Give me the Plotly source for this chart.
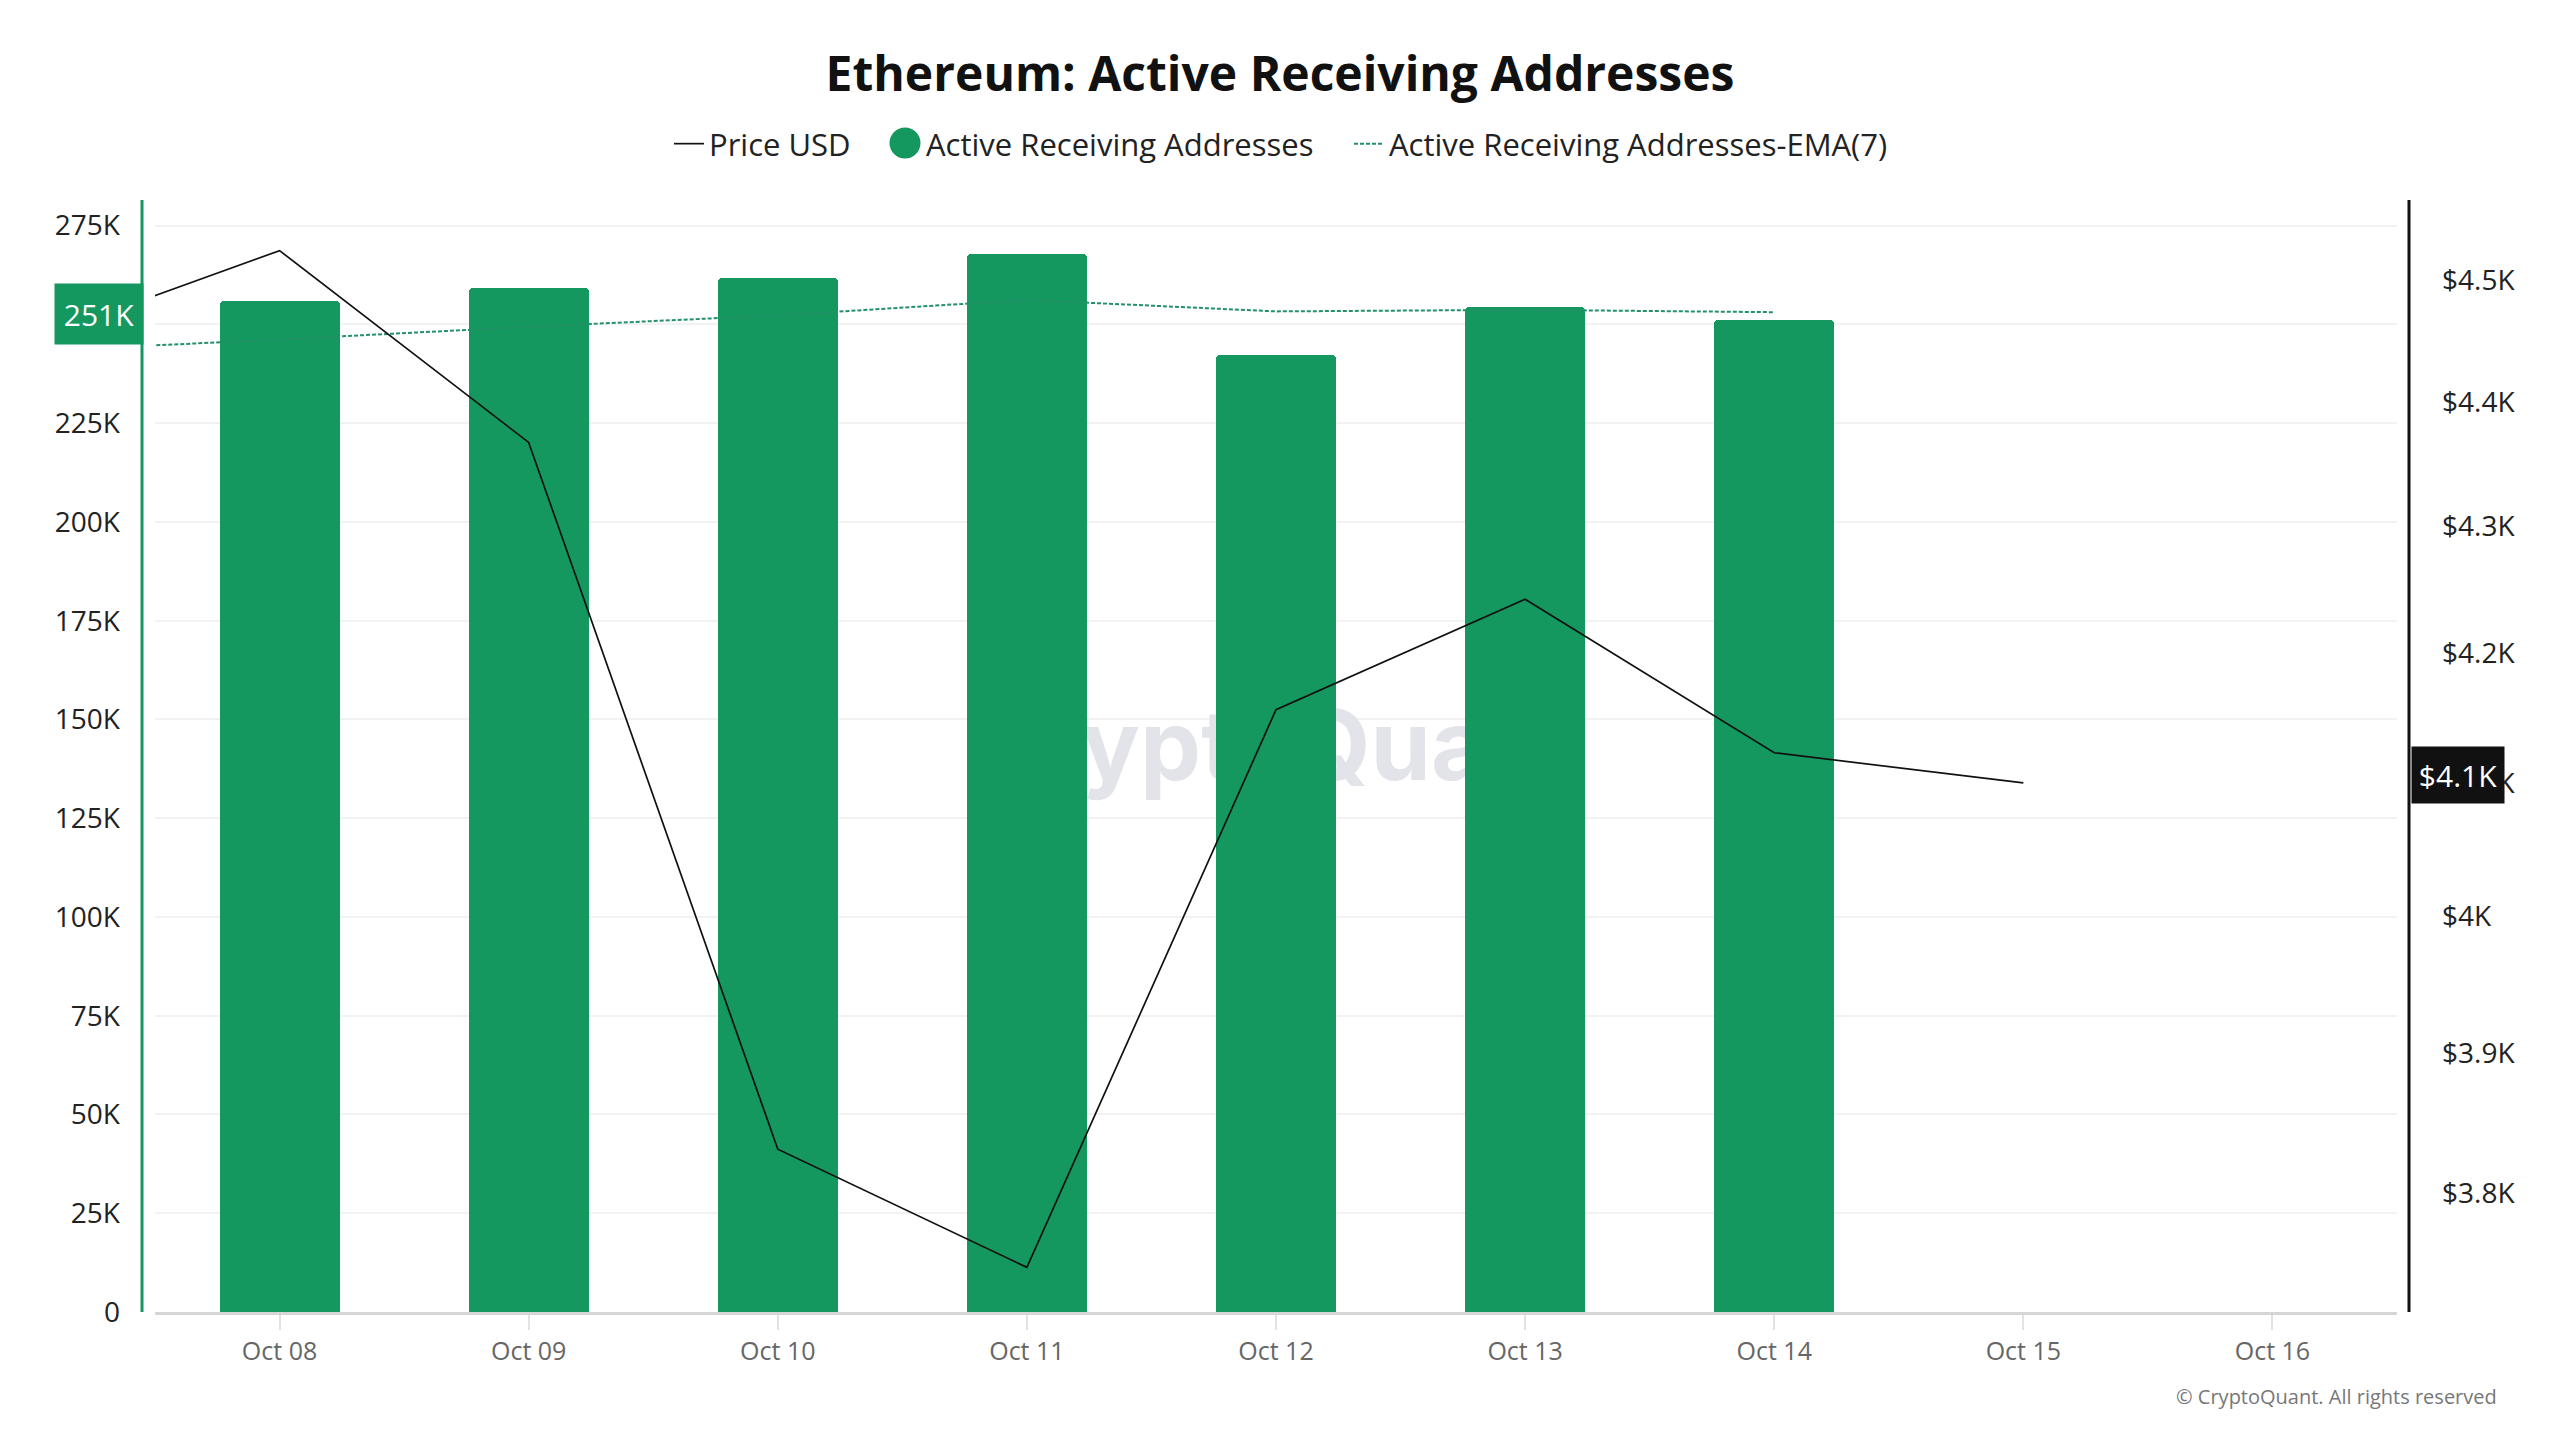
import numpy as np
import plotly.graph_objects as go

# ---------------- data ----------------
price_dates = ["2025-10-07", "2025-10-08", "2025-10-09", "2025-10-10", "2025-10-11",
               "2025-10-12", "2025-10-13", "2025-10-14", "2025-10-15"]
price_usd = [4450, 4525, 4367, 3831, 3748, 4156, 4242, 4123, 4100]

bar_dates = ["2025-10-08", "2025-10-09", "2025-10-10", "2025-10-11",
             "2025-10-12", "2025-10-13", "2025-10-14"]
active_receiving = [256000, 259200, 261700, 267800, 242200, 254400, 251000]

ema_dates = ["2025-10-07", "2025-10-08", "2025-10-09", "2025-10-10", "2025-10-11",
             "2025-10-12", "2025-10-13", "2025-10-14"]
active_receiving_ema7 = [243200, 246200, 249400, 252300, 256200, 253300, 253700, 253100]

x_tick_dates = ["2025-10-08", "2025-10-09", "2025-10-10", "2025-10-11", "2025-10-12",
                "2025-10-13", "2025-10-14", "2025-10-15", "2025-10-16"]
left_tick_vals = [0, 25000, 50000, 75000, 100000, 125000, 150000, 175000, 200000,
                  225000, 250000, 275000]
left_tick_text = ["0", "25K", "50K", "75K", "100K", "125K", "150K", "175K", "200K",
                  "225K", "250K", "275K"]
right_tick_vals = [3800, 3900, 4000, 4100, 4200, 4300, 4400, 4500]
right_tick_text = ["$3.8K", "$3.9K", "$4K", "$4.1K", "$4.2K", "$4.3K", "$4.4K", "$4.5K"]

# ---------------- style ----------------
GREEN = "#15985F"
EMA_GREEN = "#23906A"
FONT = "Open Sans"
W, H = 2560, 1440
L, R, T, B = 155, 163, 200, 128
PW = W - L - R
PH = H - T - B


def px_x(px):
    return (px - L) / PW


def px_y(py):
    return (H - B - py) / PH


LEG_Y = 1 + 56 / PH
leg_common = dict(orientation="h", y=LEG_Y, yanchor="middle", xanchor="left",
                  font=dict(family=FONT, size=31, color="#222222"),
                  itemwidth=30, bgcolor="rgba(0,0,0,0)", borderwidth=0)

fig = go.Figure()

# watermark on the bottom (main) subplot, so bars cover it
fig.add_trace(go.Scatter(
    x=[0.5], y=[0.5], xaxis="x", yaxis="y", mode="text",
    text=["CryptoQuant"],
    textfont=dict(family="Inter", size=97, color="#E3E3EA", weight=700),
    showlegend=False, hoverinfo="skip"))

# bars
fig.add_trace(go.Bar(
    x=bar_dates, y=active_receiving, xaxis="x2", yaxis="y2",
    marker=dict(color=GREEN, line=dict(width=0), cornerradius=4),
    width=0.482 * 86400000, name="Active Receiving Addresses",
    showlegend=False))

# EMA
fig.add_trace(go.Scatter(
    x=ema_dates, y=active_receiving_ema7, xaxis="x2", yaxis="y2", mode="lines",
    line=dict(color=EMA_GREEN, width=2, dash="4px,2px"),
    name="Active Receiving Addresses-EMA(7)", legend="legend3"))

# legend-only entry with a circle symbol for the bars
fig.add_trace(go.Scatter(
    x=[None], y=[None], xaxis="x2", yaxis="y2", mode="markers",
    marker=dict(color=GREEN, size=16, symbol="circle", line=dict(color=GREEN, width=5)),
    name="Active Receiving Addresses", legend="legend2"))

# price
fig.add_trace(go.Scatter(
    x=price_dates, y=price_usd, xaxis="x2", yaxis="y3", mode="lines",
    line=dict(color="#111111", width=1.7),
    name="Price USD", legend="legend"))

fig.update_layout(
    width=W, height=H,
    margin=dict(l=L, r=R, t=T, b=B),
    paper_bgcolor="white", plot_bgcolor="white",
    font=dict(family=FONT, color="#222222"),
    title=dict(text="<b>Ethereum: Active Receiving Addresses</b>",
               x=0.5, xanchor="center", y=1 - 74 / H, yanchor="middle",
               font=dict(family=FONT, size=48, color="#111111")),
    legend=dict(x=px_x(669), **leg_common),
    legend2=dict(x=px_x(886), **leg_common),
    legend3=dict(x=px_x(1349), **leg_common),
    xaxis=dict(range=[0, 1], visible=False, fixedrange=True),
    yaxis=dict(range=[0, 1], visible=False, fixedrange=True),
    xaxis2=dict(overlaying="x", anchor="y2", type="date",
                range=["2025-10-07 12:00", "2025-10-16 12:00"],
                tickvals=x_tick_dates, tickformat="%b %d",
                showgrid=False, zeroline=False,
                showline=True, linecolor="#D6D6D6", linewidth=3,
                ticks="outside", ticklen=15, tickwidth=1.5, tickcolor="#E2E2E2",
                ticklabelstandoff=0,
                tickfont=dict(family=FONT, size=25, color="#666666")),
    yaxis2=dict(overlaying="y", side="left", anchor="x2",
                range=[0, 281500], tickvals=left_tick_vals, ticktext=left_tick_text,
                showgrid=True, gridcolor="#F2F2F2", gridwidth=2,
                zeroline=False, showline=False, ticks="",
                ticklabelstandoff=34,
                tickfont=dict(family=FONT, size=28, color="#222222")),
    yaxis3=dict(overlaying="y", side="right", anchor="x2", type="log",
                range=[3.57021, 3.65969], tickvals=right_tick_vals, ticktext=right_tick_text,
                showgrid=False, zeroline=False, showline=False, ticks="",
                ticklabelstandoff=44,
                tickfont=dict(family=FONT, size=28, color="#222222")),
    bargap=0,
    shapes=[
        dict(type="line", xref="paper", yref="paper", x0=-13 / PW, x1=-13 / PW, y0=0, y1=1,
             line=dict(color=GREEN, width=3), layer="above"),
        dict(type="line", xref="paper", yref="paper", x0=1 + 12 / PW, x1=1 + 12 / PW, y0=0, y1=1,
             line=dict(color="#111111", width=3), layer="above"),
        # larger round legend symbol for the bar series
        dict(type="circle", xref="paper", yref="paper",
             x0=px_x(905 - 15.5), x1=px_x(905 + 15.5),
             y0=px_y(143 + 15.5), y1=px_y(143 - 15.5),
             fillcolor=GREEN, line=dict(width=0), layer="above"),
    ],
    annotations=[
        dict(xref="paper", yref="y2", x=-11 / PW, y=active_receiving[-1], yshift=6,
             xanchor="right", yanchor="middle",
             text=f"{active_receiving[-1] / 1000:.0f}K", showarrow=False,
             bgcolor=GREEN, width=80, height=52, borderpad=4,
             font=dict(family=FONT, size=30, color="white")),
        dict(xref="paper", yref="y3", x=1 + 14 / PW, y=float(np.log10(price_usd[-1])), yshift=8,
             xanchor="left", yanchor="middle",
             text=f"${price_usd[-1] / 1000:.1f}K", showarrow=False,
             bgcolor="#111111", width=84, height=48, borderpad=4,
             font=dict(family=FONT, size=30, color="white")),
        dict(xref="paper", yref="paper", x=px_x(2499), y=-(1396 - (H - B)) / PH,
             xanchor="right", yanchor="middle", showarrow=False,
             text="© CryptoQuant. All rights reserved",
             font=dict(family=FONT, size=20, color="#777777")),
    ],
)

fig.write_html("out.html", config={"displayModeBar": False},
               post_script="document.body.style.margin='0';document.body.style.overflow='hidden';")
